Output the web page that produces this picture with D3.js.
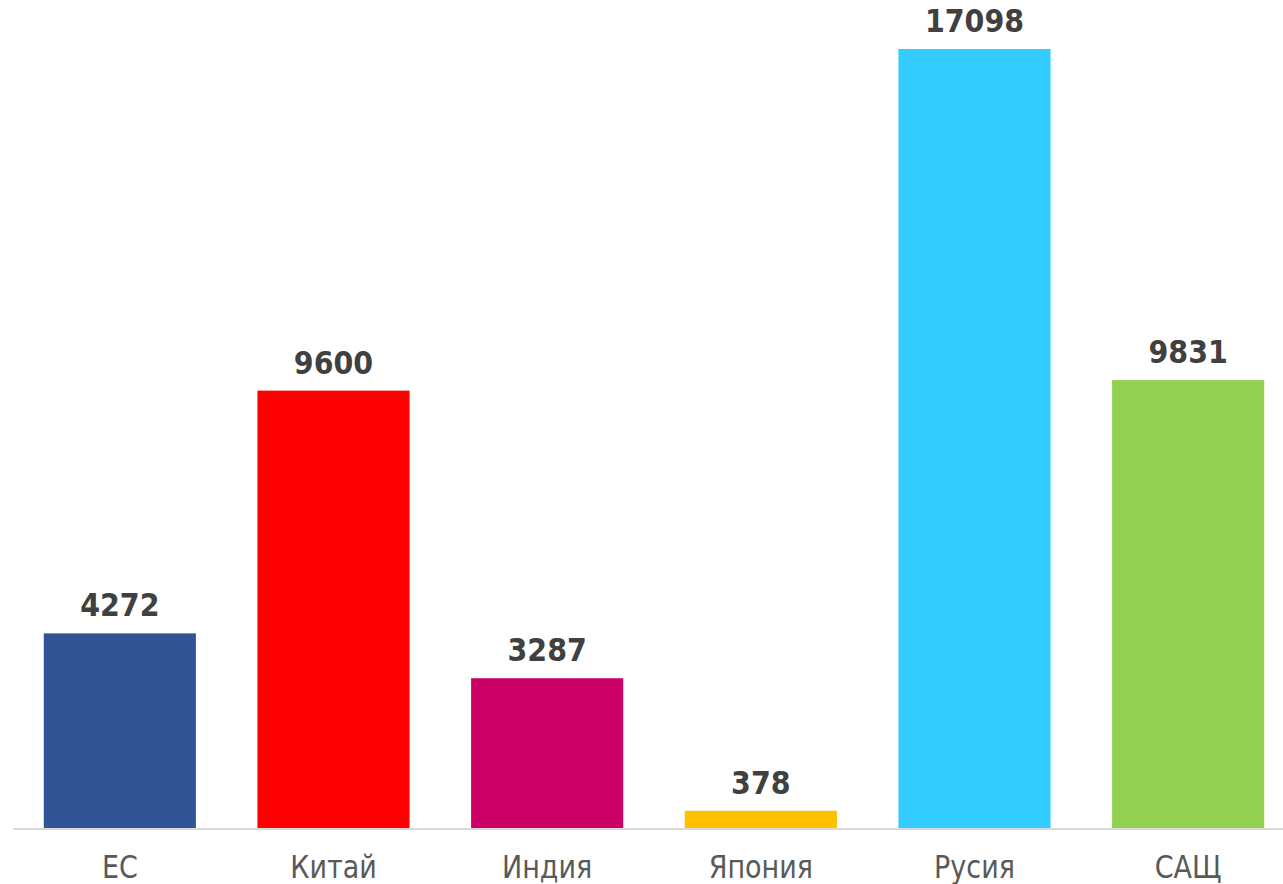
<!DOCTYPE html>
<html lang="bg">

<head>
    <meta charset="utf-8">
    <script type="text/javascript" src="https://d3js.org/d3.v7.min.js"></script>
    <style>
        body { margin: 0; background: #fff; }
        text { font-family: "DejaVu Sans", Verdana, sans-serif; }
    </style>
</head>

<body>
    <script type="text/javascript">

        let categories = ["ЕС", "Китай", "Индия", "Япония", "Русия", "САЩ"];
        let values = [4272, 9600, 3287, 378, 17098, 9831];
        let colors = ["#2F5597", "#FF0000", "#CC0066", "#FFC000", "#33CCFF", "#92D050"];

        let w = 1283;
        let h = 884;
        let baseline = 828;

        let svg = d3.select("body").append("svg")
            .attr("width", w)
            .attr("height", h);

        let x = d3.scaleBand()
            .domain(categories)
            .range([13, 1295])
            .paddingInner(0.288)
            .paddingOuter(0.144);

        let y = d3.scaleLinear()
            .domain([0, 17098])
            .range([baseline, 49]);

        svg.selectAll("rect")
            .data(values)
            .join("rect")
            .attr("x", function (d, i) { return x(categories[i]); })
            .attr("y", function (d) { return y(d); })
            .attr("width", x.bandwidth())
            .attr("height", function (d) { return baseline - y(d); })
            .attr("fill", function (d, i) { return colors[i]; });

        // baseline of the category axis
        svg.append("line")
            .attr("x1", 13)
            .attr("x2", w)
            .attr("y1", baseline + 1)
            .attr("y2", baseline + 1)
            .attr("stroke", "#d9d9d9")
            .attr("stroke-width", 2);

        // value labels (the original is a bit stretched vertically)
        svg.selectAll("text.val")
            .data(values)
            .join("text")
            .attr("class", "val")
            .text(function (d) { return d; })
            .attr("transform", function (d, i) {
                let cx = x(categories[i]) + x.bandwidth() / 2;
                return "translate(" + cx + "," + (y(d) - 17) + ") scale(1,1.14)";
            })
            .attr("text-anchor", "middle")
            .attr("font-size", 28.5)
            .attr("font-weight", "bold")
            .attr("fill", "#404040");

        svg.selectAll("text.cat")
            .data(categories)
            .join("text")
            .attr("class", "cat")
            .text(function (d) { return d; })
            .attr("transform", function (d) {
                let cx = x(d) + x.bandwidth() / 2;
                return "translate(" + cx + ",878) scale(1,1.15)";
            })
            .attr("text-anchor", "middle")
            .attr("font-size", 27)
            .attr("fill", "#595959");

    </script>
</body>

</html>
